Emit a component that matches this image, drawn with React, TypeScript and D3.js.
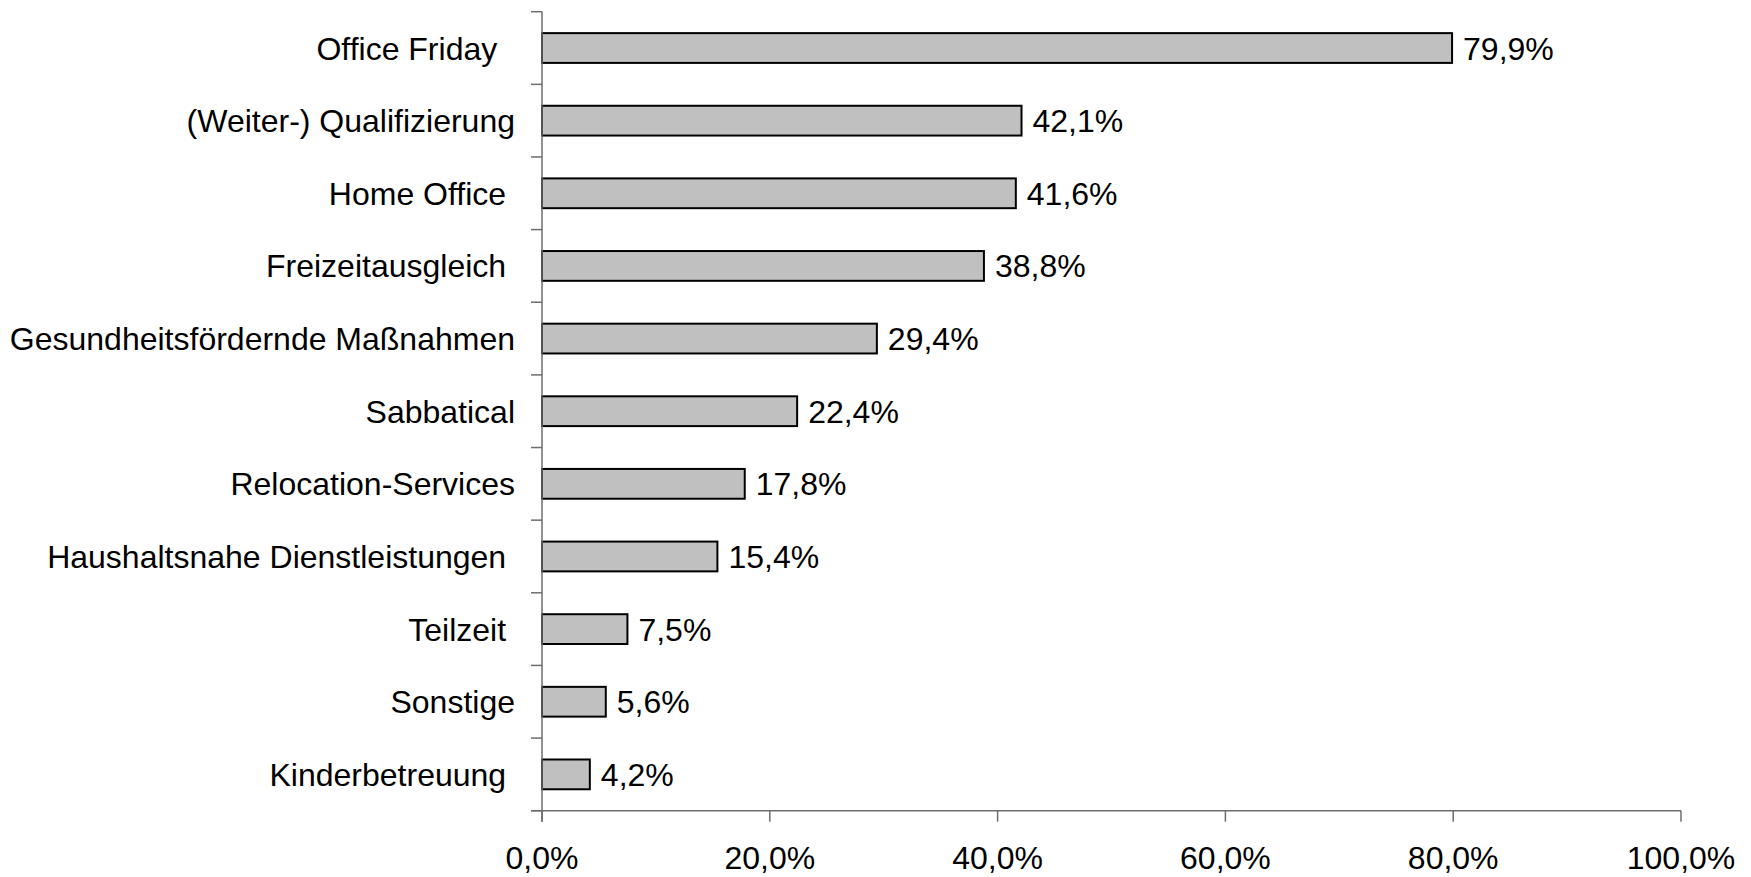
import React, { useEffect, useRef } from 'react';
import * as d3 from 'd3';

const categories = [
  'Office Friday  ',
  '(Weiter-) Qualifizierung',
  'Home Office ',
  'Freizeitausgleich ',
  'Gesundheitsfördernde Maßnahmen',
  'Sabbatical',
  'Relocation-Services',
  'Haushaltsnahe Dienstleistungen ',
  'Teilzeit ',
  'Sonstige',
  'Kinderbetreuung ',
];
const values = [79.9, 42.1, 41.6, 38.8, 29.4, 22.4, 17.8, 15.4, 7.5, 5.6, 4.2];
const xTicks = [0, 20, 40, 60, 80, 100];

const fmt = (v: number, digits: number) => v.toFixed(digits).replace('.', ',') + '%';

const App = () => {
  const svgRef = useRef<SVGSVGElement>(null);

  useEffect(() => {
    const width = 1751;
    const height = 877;
    const svg = d3.select(svgRef.current);
    svg.selectAll('*').remove();

    const left = 542, right = 1681, top = 11.7, bottom = 810.7;
    const font = "Arial, 'Liberation Sans', sans-serif";
    const axisColor = '#6e6e6e';

    const x = d3.scaleLinear().domain([0, 100]).range([left, right]);
    const y = d3.scaleBand<string>()
      .domain(categories)
      .range([top, bottom])
      .paddingInner(0.59)
      .paddingOuter(0.295);

    const g = svg.append('g');

    // bars
    g.selectAll('rect.bar')
      .data(values)
      .enter().append('rect')
      .attr('class', 'bar')
      .attr('x', x(0))
      .attr('y', (d, i) => y(categories[i])!)
      .attr('width', d => x(d) - x(0))
      .attr('height', y.bandwidth())
      .style('fill', '#c0c0c0')
      .style('stroke', '#000')
      .style('stroke-width', 2);

    // value labels
    g.selectAll('text.val')
      .data(values)
      .enter().append('text')
      .attr('class', 'val')
      .attr('x', d => x(d) + 11)
      .attr('y', (d, i) => y(categories[i])! + y.bandwidth() / 2 + 11.5)
      .text(d => fmt(d, 1))
      .style('font-family', font)
      .style('font-size', '32px')
      .style('fill', '#000');

    // category labels
    g.selectAll('text.cat')
      .data(categories)
      .enter().append('text')
      .attr('class', 'cat')
      .attr('x', 515)
      .attr('y', d => y(d)! + y.bandwidth() / 2 + 11.5)
      .attr('text-anchor', 'end')
      .style('white-space', 'pre')
      .text(d => d)
      .style('font-family', font)
      .style('font-size', '32px')
      .style('fill', '#000');

    // y axis
    g.append('line')
      .attr('x1', left).attr('x2', left)
      .attr('y1', top).attr('y2', bottom + 11)
      .style('stroke', axisColor).style('stroke-width', 1.5);
    const step = y.step();
    d3.range(categories.length + 1).forEach(i => {
      const yy = top + i * step;
      g.append('line')
        .attr('x1', left - 11).attr('x2', left)
        .attr('y1', yy).attr('y2', yy)
        .style('stroke', axisColor).style('stroke-width', 1.5);
    });

    // x axis
    g.append('line')
      .attr('x1', left - 11).attr('x2', right)
      .attr('y1', bottom).attr('y2', bottom)
      .style('stroke', axisColor).style('stroke-width', 1.5);
    xTicks.forEach(t => {
      g.append('line')
        .attr('x1', x(t)).attr('x2', x(t))
        .attr('y1', bottom).attr('y2', bottom + 11)
        .style('stroke', axisColor).style('stroke-width', 1.5);
      g.append('text')
        .attr('x', x(t))
        .attr('y', 869)
        .attr('text-anchor', 'middle')
        .text(fmt(t, 1))
        .style('font-family', font)
        .style('font-size', '32px')
        .style('fill', '#000');
    });

    svg.attr('width', width).attr('height', height);
  }, []);

  return (
    <div style={{ position: 'absolute', left: 0, top: 0 }}>
      <svg ref={svgRef} width={1751} height={877} style={{ display: 'block', background: '#fff' }} />
    </div>
  );
};

export default App;
